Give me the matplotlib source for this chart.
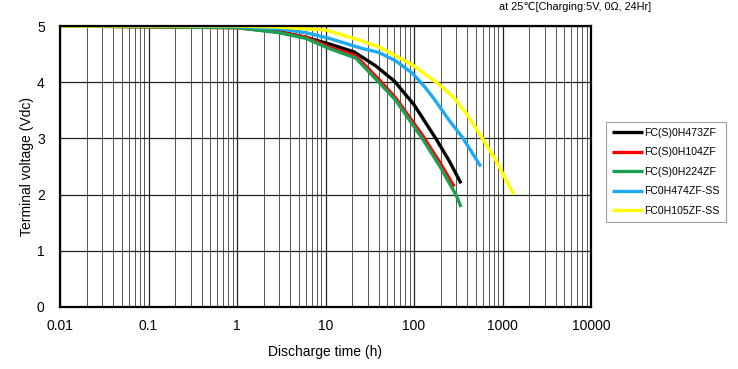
import matplotlib
matplotlib.use("Agg")
import matplotlib.pyplot as plt
import numpy as np

# ---- data ----
black_t = [0.01, 1, 3, 6, 11, 21, 37, 60, 100, 176, 250, 340]
black_v = [5.0, 4.98, 4.9, 4.8, 4.68, 4.54, 4.29, 4.02, 3.6, 3.0, 2.6, 2.2]
red_t = [0.01, 1, 3, 6, 11, 22, 40, 62, 124, 200, 284]
red_v = [5.0, 4.97, 4.89, 4.8, 4.63, 4.47, 4.05, 3.72, 3.06, 2.55, 2.14]
green_t = [0.01, 1, 3, 6, 11, 22, 40, 62, 124, 200, 297, 340]
green_v = [5.0, 4.97, 4.88, 4.78, 4.6, 4.43, 4.0, 3.68, 3.0, 2.48, 2.0, 1.78]
blue_t = [0.01, 1, 3, 6, 11, 26, 40, 62, 96, 135, 169, 250, 352, 568]
blue_v = [5.0, 4.99, 4.95, 4.88, 4.78, 4.6, 4.53, 4.38, 4.16, 3.9, 3.7, 3.32, 3.02, 2.5]
yellow_t = [0.01, 1, 3, 10, 24, 40, 96, 192, 284, 400, 593, 850, 1340]
yellow_v = [5.0, 5.0, 4.98, 4.93, 4.75, 4.63, 4.31, 3.96, 3.72, 3.42, 3.0, 2.6, 2.0]

labels = ["FC(S)0H473ZF", "FC(S)0H104ZF", "FC(S)0H224ZF", "FC0H474ZF-SS", "FC0H105ZF-SS"]
colors = ["#000000", "#ff0000", "#1aa050", "#1eaaf0", "#ffff00"]
series = [(black_t, black_v), (red_t, red_v), (green_t, green_v),
          (blue_t, blue_v), (yellow_t, yellow_v)]

x_ticks = [0.01, 0.1, 1, 10, 100, 1000, 10000]
x_ticklabels = ["0.01", "0.1", "1", "10", "100", "1000", "10000"]
y_ticks = [0, 1, 2, 3, 4, 5]

plt.rcParams['font.family'] = ['Liberation Sans', 'DejaVu Sans']

fig = plt.figure(figsize=(7.38, 3.69), dpi=100)
ax = fig.add_axes([60/738, 1-307/369, (591-60)/738, (307-26)/369])

ax.set_xscale('log')
ax.set_xlim(0.01, 10000)
ax.set_ylim(0, 5)

# grid
ax.set_xticks(x_ticks)
ax.set_xticklabels(x_ticklabels, fontsize=10)
ax.set_yticks(y_ticks)
ax.set_yticklabels([str(v) for v in y_ticks], fontsize=10)
ax.xaxis.set_minor_locator(matplotlib.ticker.LogLocator(base=10, subs=np.arange(2, 10)))
ax.xaxis.set_minor_formatter(matplotlib.ticker.NullFormatter())
ax.grid(True, which='major', axis='both', color='#222222', linewidth=0.9)
ax.grid(True, which='minor', axis='x', color='#555555', linewidth=0.7)
ax.tick_params(which='both', length=0)
ax.tick_params(axis='x', pad=9)
ax.tick_params(axis='y', pad=11)

for sp in ax.spines.values():
    sp.set_linewidth(1.6)
    sp.set_color('black')

handles = []
for (t, v), c, lab in zip(series, colors, labels):
    h, = ax.plot(t, v, color=c, linewidth=2.4, label=lab,
                 solid_capstyle='butt', solid_joinstyle='round')
    handles.append(h)

ax.set_xlabel("Discharge time (h)", fontsize=10, labelpad=8)
ax.set_ylabel("Terminal voltage (Vdc)", fontsize=10, labelpad=2)

leg = fig.legend(handles=handles, labels=labels, loc='upper left',
                 bbox_to_anchor=(606/738, 1-122/369), fontsize=7.6,
                 frameon=True, fancybox=False, edgecolor='#888888',
                 handlelength=3.0, handletextpad=0.1, labelspacing=0.9,
                 borderpad=0.55, borderaxespad=0)
leg.get_frame().set_linewidth(0.8)

fig.text(651/738, 1-7.5/369, "at 25\u2103[Charging:5V, 0\u03a9, 24Hr]", fontsize=7.8,
         ha='right', va='center')

fig.savefig("out.png", dpi=100)
